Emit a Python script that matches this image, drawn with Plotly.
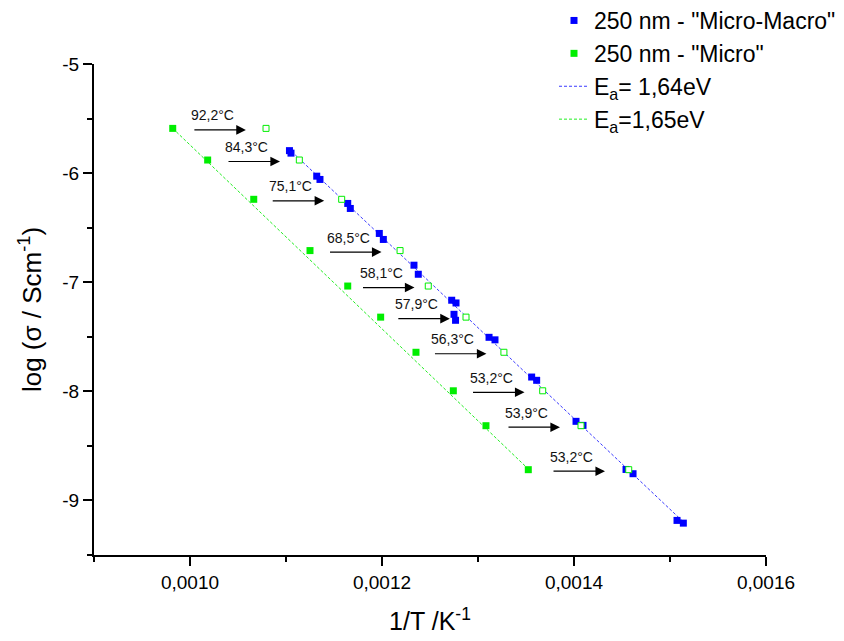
import plotly.graph_objects as go

# ---- data ----
micro_macro_x = [0.0011036, 0.0011052, 0.0011320, 0.0011354, 0.0011643, 0.0011670,
                 0.0011972, 0.0012014, 0.0012333, 0.0012378, 0.0012726, 0.0012771,
                 0.0012750, 0.0012766, 0.0013115, 0.0013177, 0.0013559, 0.0013611,
                 0.0014021, 0.0014094, 0.0014542, 0.0014615, 0.0015073, 0.0015139]
micro_macro_y = [-5.794, -5.817, -6.028, -6.058, -6.278, -6.324,
                 -6.553, -6.608, -6.844, -6.927, -7.165, -7.190,
                 -7.294, -7.349, -7.505, -7.528, -7.869, -7.899,
                 -8.275, -8.312, -8.716, -8.755, -9.183, -9.208]

micro_x = [0.000982, 0.0010184, 0.0010664, 0.001125, 0.0011643,
           0.0011986, 0.0012354, 0.0012743, 0.0013083, 0.0013524]
micro_y = [-5.59, -5.88, -6.24, -6.71, -7.035, -7.32, -7.642, -7.995, -8.315, -8.718]

micro_shifted_x = [0.0010792, 0.0011139, 0.001158, 0.0012188, 0.0012482,
                   0.0012875, 0.001327, 0.0013674, 0.0014073, 0.001457]

shift_labels = ["92,2°C", "84,3°C", "75,1°C", "68,5°C", "58,1°C",
                "57,9°C", "56,3°C", "53,2°C", "53,9°C", "53,2°C"]

fit_blue_x = [0.0011021, 0.0015135]
fit_blue_y = [-5.771, -9.193]
fit_green_x = [0.000982, 0.0013510]
fit_green_y = [-5.59, -8.70]

x_tick_vals = [0.0010, 0.0012, 0.0014, 0.0016]
x_tick_text = ["0,0010", "0,0012", "0,0014", "0,0016"]
x_minor_vals = [0.0009, 0.0011, 0.0013, 0.0015]
y_tick_vals = [-5, -6, -7, -8, -9]
y_tick_text = ["-5", "-6", "-7", "-8", "-9"]
y_minor_vals = [-5.5, -6.5, -7.5, -8.5, -9.5]

FONT = "Arial, Liberation Sans, sans-serif"
BLUE = "#0000ff"
GREEN = "#00ee00"

# the page body adds an 8px offset; the figure is sized to fill the rest
W, H = 836, 633
ML, MR, MT, MB = 86, 78, 56, 86
PW, PH = W - ML - MR, H - MT - MB

fig = go.Figure()

fig.add_trace(go.Scatter(x=fit_blue_x, y=fit_blue_y, mode="lines",
                         line=dict(color="#3a3aff", width=1, dash="3px,2px"),
                         name="E<sub>a</sub>= 1,64eV", legendrank=3))
fig.add_trace(go.Scatter(x=fit_green_x, y=fit_green_y, mode="lines",
                         line=dict(color="#22ee22", width=1, dash="3px,2px"),
                         name="E<sub>a</sub>=1,65eV", legendrank=4))
fig.add_trace(go.Scatter(x=micro_macro_x, y=micro_macro_y, mode="markers",
                         marker=dict(symbol="square", size=7, color=BLUE),
                         name='250 nm - "Micro-Macro"', legendrank=1))
fig.add_trace(go.Scatter(x=micro_x, y=micro_y, mode="markers",
                         marker=dict(symbol="square", size=7, color=GREEN),
                         name='250 nm - "Micro"', legendrank=2))
fig.add_trace(go.Scatter(x=micro_shifted_x, y=micro_y, mode="markers",
                         marker=dict(symbol="square", size=6, color="white",
                                     line=dict(color=GREEN, width=1)),
                         showlegend=False))

annotations = []
for x0, x1, y, lab in zip(micro_x, micro_shifted_x, micro_y, shift_labels):
    mid = (x0 + x1) / 2
    annotations.append(dict(x=mid, y=y, xref="x", yref="y", text="",
                            showarrow=True, ax=-53, ay=0, xshift=26.5, yshift=-1.5,
                            arrowhead=2, arrowsize=1.6, arrowwidth=1.2,
                            arrowcolor="black"))
    annotations.append(dict(x=mid, y=y, xref="x", yref="y", text=lab,
                            showarrow=False, xanchor="left", yanchor="middle",
                            xshift=-30.5, yshift=13,
                            font=dict(family=FONT, size=14, color="#111")))

fig.update_layout(
    width=W, height=H,
    margin=dict(l=ML, r=MR, t=MT, b=MB, pad=0, autoexpand=False),
    paper_bgcolor="white", plot_bgcolor="white",
    separators=", ",
    font=dict(family=FONT, color="black"),
    showlegend=True,
    legend=dict(x=(546 - ML) / PW, y=1 + (MT + 9) / PH, xref="paper", yref="paper",
                xanchor="left", yanchor="top",
                font=dict(family=FONT, size=23, color="black"),
                bgcolor="rgba(0,0,0,0)", tracegroupgap=0),
    annotations=annotations,
    xaxis=dict(range=[0.0009, 0.0016], showgrid=False, zeroline=False,
               showline=True, linecolor="black", linewidth=2, automargin=False,
               ticks="outside", ticklen=9, tickwidth=1.5, tickcolor="black",
               tickmode="array", tickvals=x_tick_vals, ticktext=x_tick_text,
               tickfont=dict(family=FONT, size=19),
               minor=dict(tickmode="array", tickvals=x_minor_vals, ticks="outside",
                          ticklen=5, tickwidth=1.5, tickcolor="black"),
               title=dict(text="1/T /K<sup>-1</sup>", font=dict(family=FONT, size=25),
                          standoff=21)),
    yaxis=dict(range=[-9.5, -5], showgrid=False, zeroline=False,
               showline=True, linecolor="black", linewidth=2, automargin=False,
               ticks="outside", ticklen=9, tickwidth=1.5, tickcolor="black",
               tickmode="array", tickvals=y_tick_vals, ticktext=y_tick_text,
               tickfont=dict(family=FONT, size=19),
               minor=dict(tickmode="array", tickvals=y_minor_vals, ticks="outside",
                          ticklen=5, tickwidth=1.5, tickcolor="black"),
               title=dict(text="log (σ / Scm<sup>-1</sup>)", font=dict(family=FONT, size=26),
                          standoff=13)),
)

fig.write_html("out.html")
